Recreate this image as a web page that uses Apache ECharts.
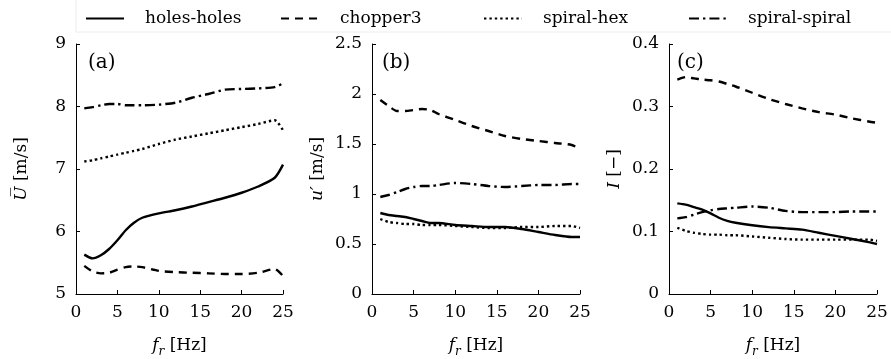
<!DOCTYPE html>
<html><head><meta charset="utf-8">
<script src="https://cdn.jsdelivr.net/npm/echarts@6/dist/echarts.min.js"></script>
<style>html,body{margin:0;padding:0;background:#fff}#c{width:891px;height:359px}</style>
</head><body><div id="c"></div>
<script>
// f_r [Hz] sample points shared by all series
const fr = [1,2,3,4,5,6,7,8,10,12,14,16,18,20,22,24,25];
const seriesNames = ['holes-holes','chopper3','spiral-hex','spiral-spiral'];

// (a) mean velocity U [m/s]
const aHoles   = [5.63,5.57,5.62,5.72,5.86,6.02,6.14,6.22,6.29,6.34,6.40,6.47,6.54,6.62,6.72,6.86,7.07];
const aChopper = [5.45,5.36,5.33,5.34,5.39,5.43,5.44,5.43,5.37,5.35,5.34,5.33,5.32,5.32,5.34,5.40,5.29];
const aHex     = [7.12,7.14,7.17,7.20,7.23,7.26,7.29,7.32,7.40,7.47,7.52,7.57,7.62,7.67,7.72,7.78,7.62];
const aSpiral  = [7.97,7.99,8.02,8.04,8.04,8.02,8.02,8.02,8.03,8.06,8.14,8.20,8.27,8.28,8.29,8.31,8.37];

// (b) u' [m/s]
const bHoles   = [0.81,0.79,0.78,0.77,0.75,0.73,0.71,0.71,0.69,0.68,0.67,0.67,0.65,0.62,0.59,0.57,0.57];
const bChopper = [1.94,1.88,1.83,1.83,1.84,1.85,1.84,1.80,1.74,1.68,1.63,1.58,1.55,1.53,1.51,1.49,1.45];
const bHex     = [0.75,0.72,0.71,0.70,0.70,0.69,0.69,0.69,0.68,0.67,0.66,0.66,0.67,0.67,0.68,0.68,0.66];
const bSpiral  = [0.97,0.99,1.02,1.05,1.07,1.08,1.08,1.09,1.11,1.10,1.08,1.07,1.08,1.09,1.09,1.10,1.10];

// (c) I [-]
const cHoles   = [0.145,0.143,0.139,0.135,0.129,0.122,0.117,0.114,0.110,0.107,0.105,0.103,0.098,0.093,0.088,0.083,0.080];
const cChopper = [0.343,0.347,0.345,0.343,0.342,0.340,0.336,0.332,0.322,0.312,0.304,0.297,0.291,0.287,0.281,0.276,0.274];
const cHex     = [0.106,0.101,0.098,0.096,0.095,0.095,0.094,0.094,0.092,0.090,0.088,0.087,0.087,0.087,0.087,0.087,0.085];
const cSpiral  = [0.121,0.123,0.127,0.131,0.134,0.136,0.137,0.138,0.140,0.138,0.133,0.131,0.131,0.131,0.132,0.132,0.132];

const panels = [
  {vals:[aHoles,aChopper,aHex,aSpiral], min:5, max:9, interval:1, name:'{i|U\u0305} [m/s]', label:'(a)'},
  {vals:[bHoles,bChopper,bHex,bSpiral], min:0, max:2.5, interval:0.5, name:'{i|u\u2032} [m/s]', label:'(b)'},
  {vals:[cHoles,cChopper,cHex,cSpiral], min:0, max:0.4, interval:0.1, name:'{i|I} [\u2212]', label:'(c)'}
];

const FONT = 'DejaVu Serif';
const styles = [
  {type:'solid', width:2.4},
  {type:[8,6], width:2.4},
  {type:[2.4,3], width:2.4},
  {type:[10,4,2.4,4], width:2.4}
];
const gridLefts = [76, 372, 669];
const gridWidths = [207, 208, 208];
const labelPos = [[88,53],[382,53],[677,53]];

const grid = [], xAxis = [], yAxis = [], series = [], graphic = [];
panels.forEach((p, i) => {
  grid.push({left: gridLefts[i], top: 44, width: gridWidths[i], height: 250,
             outerBoundsMode:'none', containLabel:false});
  xAxis.push({
    type:'value', gridIndex:i, min:0, max:25, interval:5,
    name:'{i|f}{s|r} [Hz]', nameLocation:'middle', nameGap:40,
    nameTextStyle:{fontFamily:FONT, fontSize:17, color:'#000',
      rich:{i:{fontStyle:'italic', fontFamily:FONT, fontSize:17, lineHeight:24},
            s:{fontStyle:'italic', fontFamily:FONT, fontSize:12, lineHeight:12, verticalAlign:'bottom'}}},
    axisLine:{show:true, lineStyle:{color:'#000', width:1}},
    axisTick:{show:true, inside:true, length:4, lineStyle:{color:'#000'}},
    axisLabel:{fontFamily:FONT, fontSize:17, color:'#000', margin:10},
    splitLine:{show:false}
  });
  yAxis.push({
    type:'value', gridIndex:i, min:p.min, max:p.max, interval:p.interval,
    name:p.name, nameLocation:'middle', nameGap:46, nameRotate:90,
    nameTextStyle:{fontFamily:FONT, fontSize:17, color:'#000',
      rich:{i:{fontStyle:'italic', fontFamily:FONT, fontSize:17}}},
    axisLine:{show:true, lineStyle:{color:'#000', width:1}},
    axisTick:{show:true, inside:true, length:4, lineStyle:{color:'#000'}},
    axisLabel:{fontFamily:FONT, fontSize:17, color:'#000', margin:10},
    splitLine:{show:false}
  });
  p.vals.forEach((v, k) => {
    series.push({
      type:'line', name:seriesNames[k], xAxisIndex:i, yAxisIndex:i,
      data: fr.map((f, j) => [f, v[j]]),
      showSymbol:false, symbol:'none', smooth:0.25, animation:false,
      lineStyle:{color:'#000', width:styles[k].width, type:styles[k].type, cap:'butt'},
      itemStyle:{color:'#000'}
    });
  });
  graphic.push({type:'text', left:labelPos[i][0], top:labelPos[i][1],
    style:{text:p.label, font:'20px "DejaVu Serif"', fill:'#000'}});
});

graphic.push({type:'rect', shape:{x:76, y:-2, width:818, height:34},
  style:{fill:'none', stroke:'#ececec', lineWidth:1}, z:-1});

const legendLefts = [80, 275, 478, 683];
const legend = seriesNames.map((n, k) => ({
  data:[n], left:legendLefts[k], top:5, itemWidth:38, itemHeight:14,
  itemStyle:{opacity:0},
  textStyle:{fontFamily:FONT, fontSize:17, color:'#000', padding:[0,0,0,16]},
  selectedMode:false
}));

const chart = echarts.init(document.getElementById('c'), null, {renderer:'canvas'});
chart.setOption({animation:false, grid, xAxis, yAxis, series, legend, graphic});
</script></body></html>
